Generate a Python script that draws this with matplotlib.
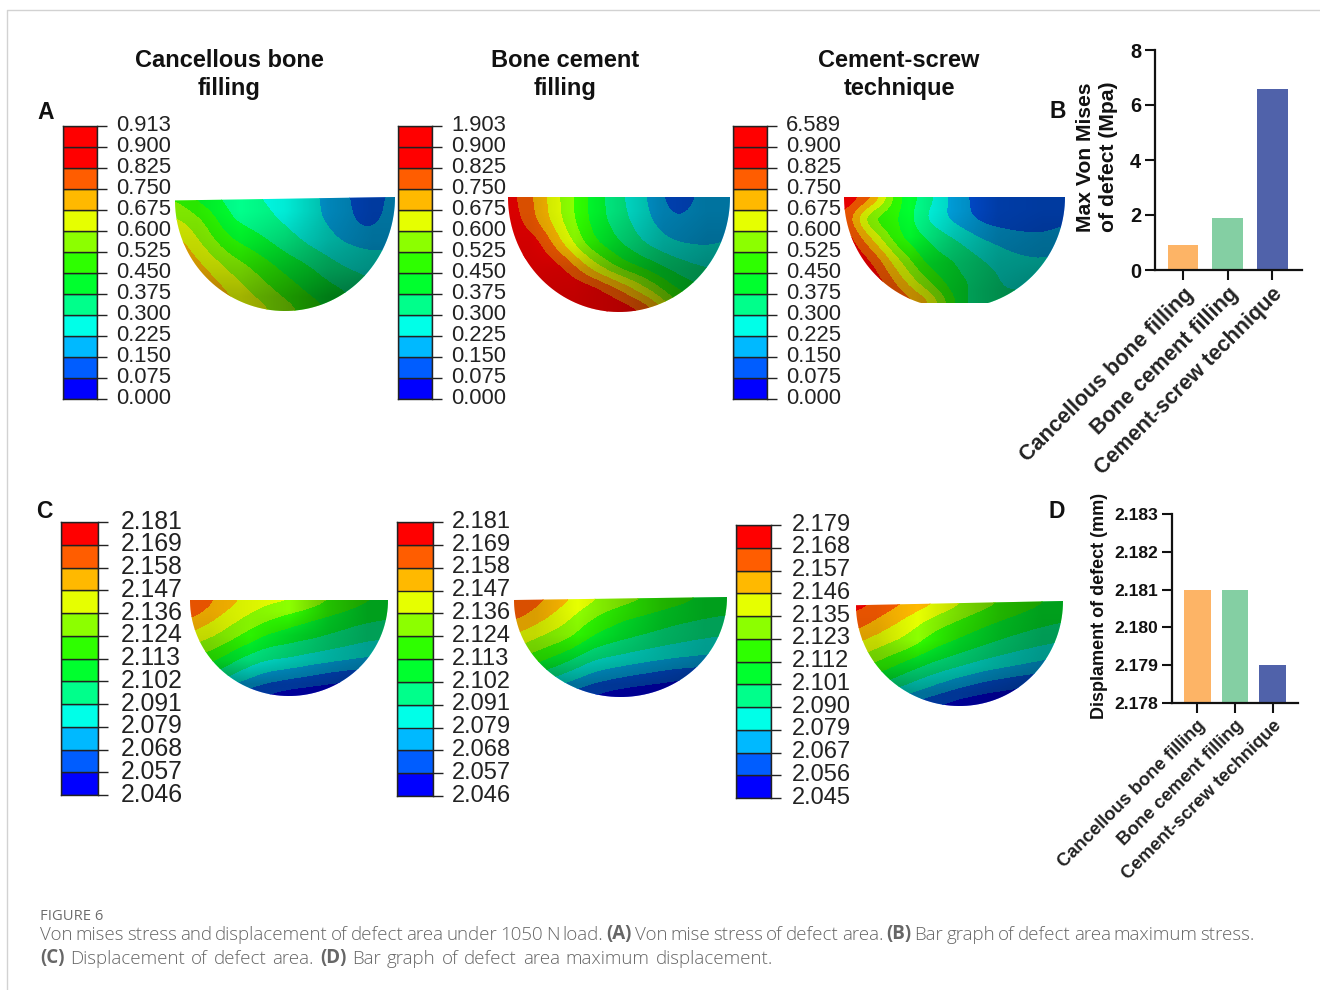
import numpy as np
import matplotlib
matplotlib.use("Agg")
import matplotlib.pyplot as plt
from matplotlib.path import Path
from matplotlib.patches import PathPatch
from matplotlib.colors import ListedColormap
from matplotlib.transforms import ScaledTranslation
from matplotlib.lines import Line2D

W, H = 1320, 990

# ---------- data ----------
titles = ["Cancellous bone\nfilling", "Bone cement\nfilling", "Cement-screw\ntechnique"]
groups = ["Cancellous bone filling", "Bone cement filling", "Cement-screw technique"]
stress_max = [0.913, 1.903, 6.589]
disp_max = [2.181, 2.181, 2.179]
stress_labels_common = ["0.900", "0.825", "0.750", "0.675", "0.600", "0.525", "0.450",
                        "0.375", "0.300", "0.225", "0.150", "0.075", "0.000"]
stress_tops = ["0.913", "1.903", "6.589"]
disp_labels_ab = ["2.181", "2.169", "2.158", "2.147", "2.136", "2.124", "2.113",
                  "2.102", "2.091", "2.079", "2.068", "2.057", "2.046"]
disp_labels_c = ["2.179", "2.168", "2.157", "2.146", "2.135", "2.123", "2.112",
                 "2.101", "2.090", "2.079", "2.067", "2.056", "2.045"]
contour_colors = ["#0000ff", "#005dff", "#00b9ff", "#00ffe8", "#00ff8b", "#00ff2e",
                  "#2eff00", "#8cff00", "#e6ff00", "#ffb900", "#ff5d00", "#ff0000", "#ff0000"]
bar_colors = ["#fdb466", "#84cfa3", "#5062aa"]

# fields in colour-band units, rows top to bottom, columns left to right
field_a1 = [[6.8, 5.4, 4.6, 4.0, 3.6, 3.2, 2.4, 1.2, 2.4],
            [8.2, 7.0, 5.0, 4.4, 3.8, 3.2, 2.6, 1.4, 2.6],
            [9.6, 7.8, 6.2, 5.4, 4.5, 3.7, 3.0, 2.7, 2.9],
            [10.5, 9.0, 7.6, 6.6, 5.6, 4.9, 4.0, 3.5, 3.3],
            [11.0, 10.0, 8.7, 7.5, 6.5, 5.6, 5.0, 4.4, 4.0],
            [11.0, 10.5, 9.5, 8.5, 7.5, 6.5, 5.6, 5.0, 4.6]]
field_a2 = [[11.5, 9.8, 7.7, 5.7, 4.2, 3.0, 1.3, 2.2, 2.6],
            [11.8, 10.0, 7.8, 5.7, 4.4, 3.2, 2.0, 2.4, 2.8],
            [12.0, 11.5, 8.8, 6.2, 5.0, 3.8, 3.0, 2.8, 3.0],
            [12.5, 12.0, 11.0, 8.5, 6.5, 5.5, 4.5, 3.9, 3.9],
            [12.5, 12.5, 12.0, 11.5, 10.0, 8.0, 6.0, 5.0, 4.8],
            [12.5, 12.5, 12.5, 12.5, 12.0, 11.0, 8.0, 6.5, 6.0]]
field_a3 = [[12.0, 10.5, 6.0, 4.5, 2.5, 1.5, 1.3, 1.3, 1.5],
            [11.0, 6.5, 6.0, 3.8, 2.6, 1.6, 1.3, 1.4, 1.8],
            [12.0, 9.0, 6.0, 5.0, 4.0, 3.0, 2.5, 2.2, 2.4],
            [12.5, 11.0, 8.0, 5.5, 5.0, 4.0, 3.3, 3.1, 3.3],
            [12.5, 12.0, 9.5, 7.0, 5.2, 4.8, 3.6, 3.4, 3.4],
            [12.5, 12.5, 11.0, 9.5, 6.0, 3.9, 4.6, 4.8, 4.5]]
field_c1 = [[11.3, 10.0, 9.0, 8.3, 8.2, 7.5, 6.8, 6.2, 5.8],
            [10.0, 9.0, 8.0, 7.2, 6.5, 6.0, 5.6, 5.2, 5.0],
            [8.5, 7.8, 6.8, 5.7, 5.3, 5.0, 4.6, 4.2, 4.0],
            [7.0, 6.3, 5.0, 4.2, 4.0, 3.6, 3.3, 3.0, 2.9],
            [5.0, 4.5, 3.5, 2.6, 2.2, 1.8, 1.4, 1.2, 1.0],
            [3.0, 2.3, 1.4, 0.8, 0.3, 0.1, 0.0, 0.0, 0.0]]
field_c2 = [[11.3, 10.3, 9.2, 8.2, 7.6, 7.0, 6.5, 6.0, 5.7],
            [10.3, 9.3, 8.2, 7.0, 6.2, 5.8, 5.4, 5.1, 4.9],
            [8.8, 7.9, 7.2, 5.8, 5.2, 4.8, 4.4, 4.1, 3.9],
            [7.2, 6.4, 5.4, 4.2, 3.8, 3.4, 3.1, 2.9, 2.7],
            [5.2, 4.5, 3.5, 2.5, 2.0, 1.6, 1.2, 1.0, 0.8],
            [3.0, 2.3, 1.4, 0.7, 0.2, 0.0, 0.0, 0.0, 0.0]]
field_c3 = [[11.5, 10.8, 10.0, 9.2, 8.2, 7.4, 6.8, 6.2, 5.8],
            [10.6, 9.6, 8.6, 7.5, 6.8, 6.2, 5.7, 5.3, 5.0],
            [9.0, 8.2, 7.5, 6.3, 5.7, 5.1, 4.6, 4.2, 3.9],
            [7.5, 6.6, 5.6, 4.8, 4.2, 3.6, 3.2, 2.8, 2.5],
            [5.5, 4.8, 3.9, 3.0, 2.2, 1.6, 1.2, 0.9, 0.7],
            [3.2, 2.6, 1.7, 0.9, 0.3, 0.0, 0.0, 0.0, 0.0]]
# brightness of the rendered surface
shade_a1 = [[.90, 1.0, .92, .72, .62], [.85, .92, .82, .68, .60], [.80, .80, .70, .60, .55], [.70, .70, .60, .48, .42]]
shade_a2 = [[.85, 1.0, .85, .68, .62], [.82, .95, .78, .64, .58], [.80, .78, .68, .58, .52], [.75, .75, .70, .58, .48]]
shade_a3 = [[.90, 1.0, .82, .65, .62], [.85, .95, .75, .62, .58], [.80, .80, .68, .58, .55], [.75, .75, .65, .55, .48]]
shade_c1 = [[.90, .95, 1.0, .75, .62], [.85, .95, .82, .70, .62], [.78, .85, .76, .68, .62], [.55, .60, .60, .56, .50]]
shade_c2 = [[.85, 1.0, .85, .70, .62], [.85, .95, .80, .68, .62], [.78, .78, .72, .66, .60], [.55, .60, .58, .54, .48]]
shade_c3 = [[.90, 1.0, .85, .70, .62], [.85, 1.0, .80, .68, .60], [.78, .78, .72, .64, .58], [.55, .60, .58, .52, .45]]

# ---------- helpers ----------
fig = plt.figure(figsize=(W / 100, H / 100), dpi=100, facecolor="white")
plt.rcParams["font.family"] = ["Liberation Sans", "DejaVu Sans"]


def px_axes(x0, y0, x1, y1, **kw):
    return fig.add_axes([x0 / W, 1 - y1 / H, (x1 - x0) / W, (y1 - y0) / H], **kw)


def ftext(x, y, s, **kw):
    return fig.text(x / W, 1 - y / H, s, **kw)


def soften(field, factor=14, width=9):
    """Fine version of a coarse grid, so that bands curve instead of kinking."""
    f = np.asarray(field, float)
    ys = np.linspace(0, 1, f.shape[0])
    xs = np.linspace(0, 1, f.shape[1])
    yf = np.linspace(0, 1, (f.shape[0] - 1) * factor + 1)
    xf = np.linspace(0, 1, (f.shape[1] - 1) * factor + 1)
    g = np.array([np.interp(xf, xs, row) for row in f])
    g = np.array([np.interp(yf, ys, col) for col in g.T]).T
    k = np.ones(width) / width
    for _ in range(2):
        g = np.pad(g, width // 2, mode="edge")
        g = np.apply_along_axis(lambda v: np.convolve(v, k, mode="valid"), 1, g)
        g = np.apply_along_axis(lambda v: np.convolve(v, k, mode="valid"), 0, g)
    return xf, yf, g


def colorbar(x0, x1, y0, y1, labels, n_colors, size, tick_px=10, pad_px=13):
    ax = px_axes(x0, y0, x1, y1)
    colors = contour_colors[:n_colors]
    ax.bar(np.zeros(n_colors), np.ones(n_colors), bottom=np.arange(n_colors), width=1,
           color=colors, edgecolor="#222222", linewidth=1.0)
    ax.set_xlim(-.5, .5)
    ax.set_ylim(0, n_colors)
    ax.set_xticks([])
    ax.yaxis.tick_right()
    ax.set_yticks(np.arange(n_colors + 1))
    ax.set_yticklabels(labels[::-1], fontsize=size, color="#222222")
    ax.tick_params(axis="y", length=tick_px * .72, width=1.0, color="#222222", pad=pad_px * .72)
    shift = ScaledTranslation(0, 2 / 72, fig.dpi_scale_trans)
    for t in ax.get_yticklabels():
        t.set_transform(t.get_transform() + shift)
    for s in ax.spines.values():
        s.set_linewidth(1.0)
        s.set_color("#222222")


def hemisphere(x0, x1, y0, y1, field, shade, n_colors, tilt=(0.0, 0.0), depth=1.0):
    ax = px_axes(x0, y0, x1, y1)
    ax.axis("off")
    xx, yy, fine = soften(field)
    t = np.linspace(0, np.pi, 160)
    px = .5 + .5 * np.cos(t)
    top = tilt[0] + (tilt[1] - tilt[0]) * px
    py = np.minimum(top + (depth - top) * np.sin(t), 1.0)
    clip = PathPatch(Path(np.column_stack([px, py])), transform=ax.transData, fc="none", ec="none")
    ax.add_patch(clip)
    cmap = ListedColormap(contour_colors[:n_colors])
    cs = ax.contourf(xx, yy, fine, levels=np.arange(n_colors + 1), cmap=cmap,
                     vmin=0, vmax=n_colors, extend="both")
    cs.set_clip_path(clip)
    b = np.array(shade)
    rgba = np.zeros(b.shape + (4,))
    rgba[..., 3] = 1 - b
    im = ax.imshow(rgba, extent=(0, 1, 1, 0), aspect="auto", interpolation="bilinear", zorder=3)
    im.set_clip_path(clip)
    ax.set_xlim(0, 1)
    ax.set_ylim(1, 0)


def barpanel(x0, x1, y0, y1, values, ylim, yticks, yfmt, xlim, bw, tsize, lsize, ylabel, ylab_x, ylab_y, ysize, ls):
    ax = px_axes(x0, y0, x1, y1)
    ax.patch.set_alpha(0)
    pos = np.arange(len(values))
    ax.bar(pos, np.array(values) - ylim[0], bottom=ylim[0], width=bw, color=bar_colors)
    ax.set_xlim(*xlim)
    ax.set_ylim(*ylim)
    ax.set_yticks(yticks)
    ax.set_yticklabels([yfmt.format(v) for v in yticks], fontsize=tsize, fontweight="bold", color="#111111")
    ax.set_xticks(pos)
    ax.set_xticklabels(groups, fontsize=lsize, fontweight="bold", color="#222222", rotation=45,
                       ha="right", va="top", rotation_mode="anchor")
    ax.tick_params(axis="both", length=7, width=1.5, color="#111111", pad=3)
    ax.spines["top"].set_visible(False)
    ax.spines["right"].set_visible(False)
    for k in ("left", "bottom"):
        ax.spines[k].set_linewidth(1.6)
        ax.spines[k].set_color("#111111")
    ftext(ylab_x, ylab_y, ylabel, rotation=90, ha="center", va="center", fontsize=ysize,
          fontweight="bold", color="#111111", linespacing=ls)
    return ax


# ---------- frame ----------
fig.add_artist(Line2D([7 / W, 7 / W, 1], [0, 1 - 10 / H, 1 - 10 / H], transform=fig.transFigure,
                      color="#d2d2d2", lw=1.0))

# ---------- titles & letters ----------
for cx, t in zip([229, 565, 899], titles):
    ftext(cx, 74.5, t, ha="center", va="center", fontsize=17, fontweight="bold", color="#111111", linespacing=1.28)
for (x, y, s) in [(46, 112, "A"), (1058, 111, "B"), (44, 511, "C"), (1057, 511, "D")]:
    ftext(x, y, s, ha="center", va="center", fontsize=16.5, fontweight="bold", color="#111111")

# ---------- stress row ----------
for x0, top in zip([63, 398, 733], stress_tops):
    colorbar(x0, x0 + 34, 126, 399, [top] + stress_labels_common, 13, 15.8, tick_px=10, pad_px=9)
hemisphere(175, 395, 197, 311, field_a1, shade_a1, 13, tilt=(.03, 0))
hemisphere(508, 730, 197, 312, field_a2, shade_a2, 13)
hemisphere(844, 1065, 197, 303, field_a3, shade_a3, 13, depth=1.05)

# ---------- displacement row ----------
colorbar(61, 98, 522, 795, disp_labels_ab, 12, 17.8, pad_px=13)
colorbar(397, 433, 522, 796, disp_labels_ab, 12, 17.0, pad_px=9)
colorbar(736, 771, 525, 798, disp_labels_c, 12, 17.0, pad_px=11)
hemisphere(190, 388, 600, 696, field_c1, shade_c1, 12)
hemisphere(514, 727, 597, 697, field_c2, shade_c2, 12, tilt=(.03, 0))
hemisphere(856, 1063, 601, 706, field_c3, shade_c3, 12, tilt=(.04, 0))

# ---------- bar panels ----------
barpanel(1155, 1302, 50, 270, stress_max, (0, 8), [0, 2, 4, 6, 8], "{:.0f}", (-.63, 2.67), .69,
         14.4, 15.5, "Max Von Mises\nof defect (Mpa)", 1097, 157, 15.2, 1.25)
barpanel(1172, 1298, 514, 703, disp_max, (2.178, 2.183), [2.178, 2.179, 2.18, 2.181, 2.182, 2.183],
         "{:.3f}", (-.66, 2.66), .71, 12.6, 13.2, "Displament of defect (mm)", 1099, 606, 13, 1.15)

# ---------- caption ----------
ftext(40, 916.5, "FIGURE 6", fontsize=10.6, family="Open Sans", color="#6d6d6d", va="center", ha="left")
renderer = fig.canvas.get_renderer()


def caption_line(y, runs, x0, x1, size):
    words = []
    for text, bold in runs:
        for w in text.split(" "):
            words.append((w, bold))
    artists, widths = [], []
    for w, bold in words:
        t = ftext(x0, y, w, fontsize=size, family="Open Sans", color="#666666", va="center", ha="left",
                  fontweight="bold" if bold else "light")
        artists.append(t)
        widths.append(t.get_window_extent(renderer).width)
    gap = (x1 - x0 - sum(widths)) / (len(words) - 1)
    x = x0
    for t, wd in zip(artists, widths):
        t.set_x(x / W)
        x += wd + gap


caption_line(934.5, [("Von mises stress and displacement of defect area under 1050 N load.", False), ("(A)", True),
                     ("Von mise stress of defect area.", False), ("(B)", True),
                     ("Bar graph of defect area maximum stress.", False)], 40, 1255, 13.5)
caption_line(958.5, [("(C)", True), ("Displacement of defect area.", False), ("(D)", True),
                     ("Bar graph of defect area maximum displacement.", False)], 40, 773, 13.5)

fig.savefig("out.png", dpi=100)
